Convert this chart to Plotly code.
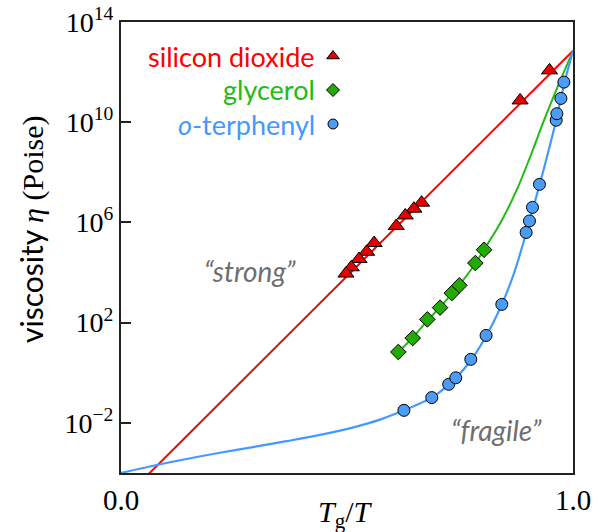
import plotly.graph_objects as go

# Tg/T values and log10 viscosity (Poise)
sio2_x = [0.948, 0.883, 0.665, 0.648, 0.629, 0.609, 0.560, 0.5435, 0.5265, 0.5095, 0.4977]
sio2_logeta = [12.07, 10.87, 6.79, 6.55, 6.28, 5.86, 5.18, 4.83, 4.54, 4.21, 3.96]

glyc_x = [0.6135, 0.6454, 0.6777, 0.7059, 0.7318, 0.7486, 0.784, 0.8033]
glyc_logeta = [0.83, 1.385, 2.13, 2.60, 3.18, 3.49, 4.38, 4.91]

otp_x = [0.626, 0.6875, 0.725, 0.7406, 0.7739, 0.8077, 0.8425, 0.8963, 0.9037,
         0.9103, 0.9258, 0.9628, 0.9643, 0.9732, 0.9798]
otp_logeta = [-1.50, -0.99, -0.46, -0.20, 0.535, 1.49, 2.73, 5.60, 6.06,
              6.60, 7.52, 10.08, 10.34, 10.95, 11.60]

# fitted curves
sio2_fit_x = [0.0, 1.0]
sio2_fit_logeta = [-5.14, 12.85]

glyc_fit_x = [0.6135, 0.6454, 0.6777, 0.7059, 0.7318, 0.7486, 0.784, 0.803,
              0.84, 0.878, 0.907, 0.936, 0.968, 1.0]
glyc_fit_logeta = [0.83, 1.40, 2.08, 2.62, 3.15, 3.50, 4.36, 4.91,
                   6.0, 7.4, 8.7, 10.08, 11.5, 12.85]

otp_fit_x = [0.0, 0.071, 0.145, 0.219, 0.30, 0.366, 0.44, 0.514, 0.573, 0.626,
             0.6875, 0.725, 0.7406, 0.774, 0.808, 0.8425, 0.87, 0.896, 0.91,
             0.926, 0.945, 0.963, 0.98, 1.0]
otp_fit_logeta = [-4.0, -3.71, -3.44, -3.19, -2.94, -2.73, -2.48, -2.18, -1.87, -1.50,
                  -0.99, -0.48, -0.22, 0.50, 1.47, 2.73, 4.0, 5.55, 6.45,
                  7.5, 8.8, 10.1, 11.5, 12.85]

ytick_exp = [-2, 2, 6, 10, 14]
xtick_vals = [0.0, 1.0]
xtick_text = ["0.0", "1.0"]

RED, GREEN, BLUE = "#ff0000", "#22bb11", "#4499ff"
RED_FILL, GREEN_FILL, BLUE_FILL = "#e60000", "#22aa00", "#4a9cf5"
GRAY = "#6e6e6e"
SERIF = "Liberation Serif, DejaVu Serif, serif"
SANS = "Lato, Open Sans, sans-serif"

W, H = 599, 532
ML, MR, MT, MB = 121, 26, 22, 59


def pw(vals):
    return [10 ** v for v in vals]


def px_to_paper_x(px):
    return (px - ML) / (W - ML - MR)


def px_to_paper_y(py):
    return (H - MB - py) / (H - MT - MB)


fig = go.Figure()

# fit lines
fig.add_trace(go.Scatter(x=sio2_fit_x, y=pw(sio2_fit_logeta), mode="lines",
                         line=dict(color=RED, width=2), hoverinfo="skip"))
fig.add_trace(go.Scatter(x=glyc_fit_x, y=pw(glyc_fit_logeta), mode="lines",
                         line=dict(color=GREEN, width=2, shape="spline", smoothing=0.8),
                         hoverinfo="skip"))
fig.add_trace(go.Scatter(x=otp_fit_x, y=pw(otp_fit_logeta), mode="lines",
                         line=dict(color=BLUE, width=2.2, shape="spline", smoothing=0.8),
                         hoverinfo="skip"))

# measured points
fig.add_trace(go.Scatter(x=sio2_x, y=pw(sio2_logeta), mode="markers",
                         marker=dict(symbol="triangle-up", size=14, color=RED_FILL,
                                     line=dict(color="black", width=1))))
fig.add_trace(go.Scatter(x=glyc_x, y=pw(glyc_logeta), mode="markers",
                         marker=dict(symbol="diamond", size=12, color=GREEN_FILL,
                                     line=dict(color="black", width=1))))
fig.add_trace(go.Scatter(x=otp_x, y=pw(otp_logeta), mode="markers",
                         marker=dict(symbol="circle", size=12, color=BLUE_FILL,
                                     line=dict(color="black", width=1))))

# key: labels on the left, symbols on the right
key_names = ["silicon dioxide", "glycerol", "<i>o</i>-terphenyl"]
key_colors = [RED, GREEN, BLUE]
key_fills = [RED_FILL, GREEN_FILL, BLUE_FILL]
key_symbols = ["triangle-up", "diamond", "circle"]
key_sizes = [11, 10, 10]
key_rows_px = [56, 90, 124]
for name, col, fill, sym, sz, row in zip(key_names, key_colors, key_fills,
                                         key_symbols, key_sizes, key_rows_px):
    ky = px_to_paper_y(row)
    fig.add_annotation(x=px_to_paper_x(317), y=ky, xref="paper", yref="paper", text=name,
                       showarrow=False, xanchor="right", yanchor="middle",
                       font=dict(family=SANS, size=27, color=col))
    fig.add_trace(go.Scatter(x=[px_to_paper_x(333)], y=[ky], xaxis="x2", yaxis="y2",
                             mode="markers",
                             marker=dict(symbol=sym, size=sz, color=fill,
                                         line=dict(color="black", width=1)),
                             hoverinfo="skip"))

fig.add_annotation(x=px_to_paper_x(250), y=px_to_paper_y(271), xref="paper", yref="paper",
                   text="<i>“strong”</i>", showarrow=False,
                   xanchor="center", yanchor="middle",
                   font=dict(family=SANS, size=28, color=GRAY))
fig.add_annotation(x=px_to_paper_x(496), y=px_to_paper_y(430), xref="paper", yref="paper",
                   text="<i>“fragile”</i>", showarrow=False,
                   xanchor="center", yanchor="middle",
                   font=dict(family=SANS, size=28, color=GRAY))

# axis titles
fig.add_annotation(x=px_to_paper_x(31), y=px_to_paper_y(230), xref="paper", yref="paper",
                   text="viscosity <span style='font-family:Liberation Serif'><i>η</i> (Poise)</span>",
                   showarrow=False, textangle=-90, xanchor="center", yanchor="middle",
                   font=dict(family=SANS, size=30, color="black"))
fig.add_annotation(x=px_to_paper_x(345), y=px_to_paper_y(514), xref="paper", yref="paper",
                   text="<i>T</i><sub>g</sub>/<i>T</i>",
                   showarrow=False, xanchor="center", yanchor="middle",
                   font=dict(family=SERIF, size=30, color="black"))

fig.update_layout(
    width=W, height=H,
    margin=dict(l=ML, r=MR, t=MT, b=MB),
    paper_bgcolor="white", plot_bgcolor="white",
    showlegend=False,
    xaxis=dict(range=[0, 1], tickvals=xtick_vals, ticktext=xtick_text,
               ticks="inside", ticklen=10, tickwidth=1.5, tickcolor="#222",
               showline=True, linecolor="#222", linewidth=2, mirror=True,
               showgrid=False, zeroline=False, automargin=False,
               tickfont=dict(family=SERIF, size=29, color="black")),
    yaxis=dict(type="log", range=[-4, 14],
               tickvals=[10 ** e for e in ytick_exp],
               ticktext=["10<sup>%s</sup>" % (str(e).replace("-", "−")) for e in ytick_exp],
               ticks="inside", ticklen=10, tickwidth=1.5, tickcolor="#222",
               showline=True, linecolor="#222", linewidth=2, mirror=True,
               showgrid=False, zeroline=False, automargin=False,
               tickfont=dict(family=SERIF, size=28, color="black")),
    xaxis2=dict(range=[0, 1], overlaying="x", visible=False, fixedrange=True),
    yaxis2=dict(range=[0, 1], overlaying="y", visible=False, fixedrange=True),
)

fig.write_html("out.html")
